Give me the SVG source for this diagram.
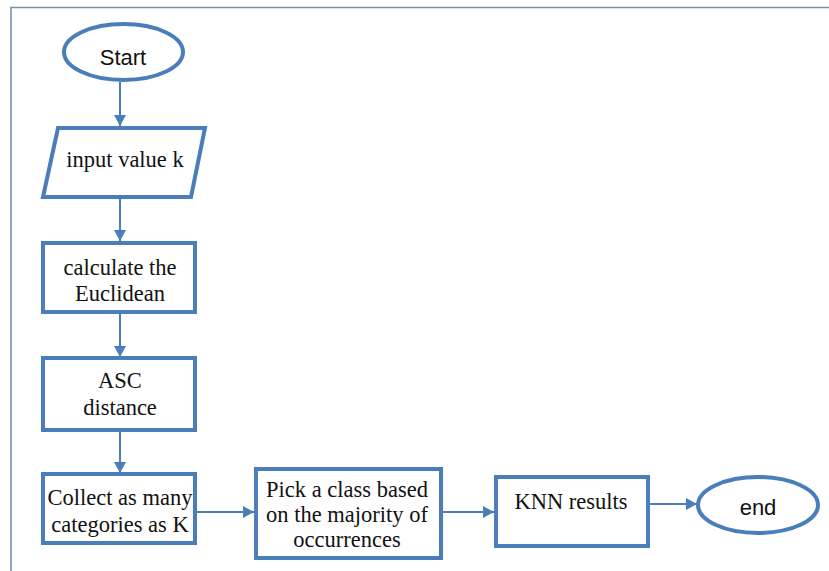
<svg xmlns="http://www.w3.org/2000/svg" width="829" height="571" viewBox="0 0 829 571">
<style>
.shape{fill:#ffffff;stroke:#4a7ebb;stroke-width:4}
.conn{fill:none;stroke:#4a7ebb;stroke-width:2}
.serif{font-family:"Liberation Serif","Times New Roman",serif;font-size:22.5px;fill:#111111;text-anchor:middle}
.sans{font-family:"Liberation Sans",Arial,sans-serif;font-size:22px;fill:#111111;text-anchor:middle}
</style>
<defs>
<marker id="arr" markerUnits="userSpaceOnUse" markerWidth="12" markerHeight="12" viewBox="0 0 12 12" refX="11" refY="6" orient="auto">
<path d="M0,0 L11,6 L0,12 Z" fill="#4a7ebb"/>
</marker>
</defs>
<rect width="829" height="571" fill="#ffffff"/>
<path d="M11,571 V7.5 H829" fill="none" stroke="#7590b5" stroke-width="1.6"/>
<g id="connectors">
<line class="conn" x1="120" y1="82" x2="120" y2="126" marker-end="url(#arr)"/>
<line class="conn" x1="120" y1="199" x2="120" y2="241" marker-end="url(#arr)"/>
<line class="conn" x1="120" y1="313" x2="120" y2="357" marker-end="url(#arr)"/>
<line class="conn" x1="120" y1="431" x2="120" y2="473" marker-end="url(#arr)"/>
<line class="conn" x1="197" y1="512" x2="254" y2="512" marker-end="url(#arr)"/>
<line class="conn" x1="443" y1="512" x2="494" y2="512" marker-end="url(#arr)"/>
<line class="conn" x1="650" y1="504" x2="697" y2="504" marker-end="url(#arr)"/>
</g>
<g id="start">
<ellipse class="shape" cx="123.5" cy="52" rx="59.5" ry="28"/>
<text class="sans" x="123" y="65">Start</text>
</g>
<g id="input">
<path class="shape" d="M58,128 L205,128 L191,197 L43,197 Z"/>
<text class="serif" x="125" y="167">input value k</text>
</g>
<g id="euclid">
<rect class="shape" x="43" y="243" width="152" height="69"/>
<text class="serif" x="120" y="275">calculate the</text>
<text class="serif" x="120" y="301">Euclidean</text>
</g>
<g id="asc">
<rect class="shape" x="43" y="358" width="152" height="72"/>
<text class="serif" x="120" y="388">ASC</text>
<text class="serif" x="120" y="415">distance</text>
</g>
<g id="collect">
<rect class="shape" x="43" y="474" width="152" height="69"/>
<text class="serif" x="120" y="505">Collect as many</text>
<text class="serif" x="120" y="532">categories as K</text>
</g>
<g id="pick">
<rect class="shape" x="256" y="469" width="185" height="89"/>
<text class="serif" x="347" y="497">Pick a class based</text>
<text class="serif" x="347" y="522">on the majority of</text>
<text class="serif" x="347" y="547">occurrences</text>
</g>
<g id="knn">
<rect class="shape" x="496" y="477" width="152" height="69"/>
<text class="serif" x="571" y="509">KNN results</text>
</g>
<g id="end">
<ellipse class="shape" cx="758" cy="505" rx="60" ry="28"/>
<text class="sans" x="758" y="515">end</text>
</g>
</svg>
